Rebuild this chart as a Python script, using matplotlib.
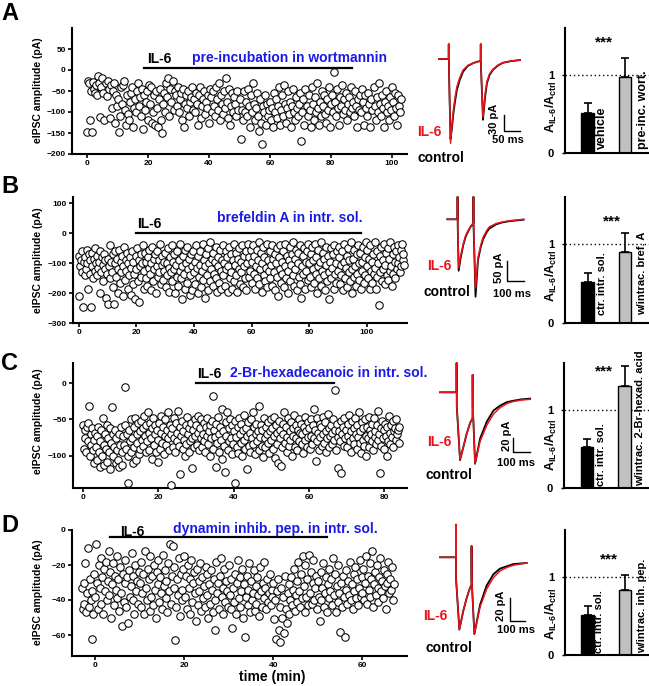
import numpy as np
import matplotlib
matplotlib.use('Agg')
import matplotlib.pyplot as plt

plt.rcParams['font.family'] = ['Liberation Sans', 'DejaVu Sans']
plt.rcParams['font.weight'] = 'bold'
plt.rcParams['mathtext.fontset'] = 'custom'
plt.rcParams['mathtext.rm'] = 'Liberation Sans:bold'
plt.rcParams['mathtext.bf'] = 'Liberation Sans:bold'
plt.rcParams['mathtext.it'] = 'Liberation Sans:bold:italic'

# ---------------- DATA ----------------
# eIPSC amplitudes (pA), regular sampling: start time (min) and interval (min)
A_t0, A_dt = 0.0, 1/3
A_amp = [
 -148,-25,-30,-120,-50,-148,-28,-45,-55,-35,-60,-15,-30,-112,-40,-20,-55,-118,-30,-62,-25,-45,-115,-35,-90,-50,-30,-125,-60,-85,
 -70,-148,-110,-40,-80,-35,-25,-95,-130,-60,-105,-120,-75,-55,-40,-135,-90,-70,-100,-50,-30,-85,-65,-110,-45,-140,-60,-95,-75,-50,
 -120,-35,-80,-40,-125,-100,-60,-130,-50,-90,-135,-70,-45,-120,-150,-80,-55,-100,-30,-65,-20,-110,-45,-75,-25,-95,-50,-60,-85,-40,
 -100,-70,-55,-120,-45,-135,-80,-60,-90,-50,-110,-75,-65,-40,-95,-70,-100,-55,-80,-130,-60,-40,-115,-85,-70,-50,-105,-75,-90,-60,
 -125,-45,-65,-100,-50,-85,-110,-40,-70,-95,-30,-120,-60,-80,-105,-50,-90,-20,-75,-115,-45,-130,-85,-55,-100,-65,-80,-110,-50,-95,
 -70,-165,-95,-120,-50,-100,-75,-110,-45,-85,-135,-60,-100,-30,-80,-120,-90,-55,-110,-145,-70,-125,-175,-85,-100,-60,-130,-80,-110,-95,
 -75,-120,-90,-135,-55,-100,-70,-115,-85,-40,-130,-95,-60,-110,-35,-80,-125,-90,-50,-105,-75,-135,-85,-45,-100,-120,-65,-90,-110,-80,
 -55,-170,-100,-70,-130,-45,-85,-110,-60,-95,-135,-40,-80,-120,-65,-100,-30,-90,-130,-75,-110,-50,-85,-60,-105,-125,-70,-95,-40,-135,
 -80,-60,-100,-5,-75,-110,-45,-90,-130,-65,-85,-35,-105,-70,-95,-55,-120,-80,-65,-100,-40,-90,-75,-110,-50,-85,-135,-70,-95,-60,
 -100,-45,-75,-130,-60,-90,-110,-55,-80,-135,-70,-95,-40,-85,-120,-65,-100,-30,-80,-110,-60,-90,-135,-75,-50,-100,-85,-120,-65,-95,
 -40,-75,-110,-55,-90,-130,-60,-85,-100,-70]

B_t0, B_dt = 0.0, 0.25
B_amp = [
 -75,-210,-110,-90,-130,-60,-245,-95,-140,-80,-120,-55,-100,-185,-70,-135,-90,-245,-110,-65,-150,-85,-125,-50,-100,-140,-75,-115,-95,-60,-200,-130,-80,-105,-160,-70,-120,-90,-215,-135,
 -85,-235,-110,-40,-150,-95,-130,-70,-180,-235,-100,-60,-145,-85,-200,-120,-55,-165,-95,-130,-75,-210,-110,-45,-155,-90,-125,-65,-185,-100,-140,-80,-115,-205,-60,-170,-95,-135,-220,-75,
 -120,-50,-160,-90,-230,-110,-70,-145,-100,-40,-185,-125,-65,-150,-95,-175,-80,-115,-55,-135,-190,-100,-45,-160,-85,-120,-70,-200,-110,-60,-145,-90,-130,-35,-170,-105,-75,-155,-95,-125,
 -65,-180,-100,-140,-50,-115,-195,-80,-130,-40,-160,-95,-120,-70,-200,-105,-145,-60,-175,-90,-125,-35,-150,-110,-220,-75,-135,-55,-185,-100,-165,-45,-120,-85,-205,-140,-70,-110,-190,-60,
 -130,-95,-170,-40,-115,-200,-75,-145,-105,-60,-180,-125,-35,-155,-90,-215,-110,-70,-140,-50,-190,-100,-160,-30,-120,-85,-175,-65,-135,-95,-150,-45,-195,-110,-80,-165,-55,-125,-185,-90,
 -40,-140,-100,-175,-60,-120,-80,-195,-110,-45,-150,-70,-130,-185,-90,-35,-160,-105,-65,-140,-195,-85,-120,-50,-170,-95,-130,-40,-180,-75,-110,-150,-60,-190,-100,-35,-145,-80,-125,-55,
 -165,-95,-40,-135,-75,-185,-110,-55,-150,-90,-30,-170,-120,-65,-195,-100,-45,-140,-80,-160,-115,-35,-180,-90,-125,-60,-150,-105,-40,-175,-85,-130,-70,-190,-100,-50,-145,-210,-80,-120,
 -40,-165,-95,-135,-60,-180,-110,-35,-150,-75,-125,-200,-90,-45,-160,-105,-70,-140,-30,-175,-85,-120,-55,-190,-100,-65,-145,-40,-170,-215,-110,-75,-135,-50,-185,-95,-125,-60,-155,-35,
 -100,-145,-70,-180,-45,-120,-90,-165,-35,-135,-80,-200,-110,-55,-150,-95,-30,-175,-125,-65,-140,-85,-190,-105,-45,-160,-75,-130,-220,-95,-50,-150,-115,-70,-185,-40,-135,-100,-165,-60,
 -125,-80,-45,-170,-105,-140,-60,-190,-95,-35,-150,-115,-75,-180,-50,-130,-90,-160,-30,-120,-200,-85,-145,-55,-110,-175,-70,-135,-40,-100,-155,-65,-185,-95,-125,-45,-165,-80,-140,-30,
 -110,-55,-150,-85,-185,-40,-125,-95,-165,-70,-135,-30,-115,-185,-60,-145,-100,-240,-75,-130,-45,-160,-90,-120,-35,-170,-105,-65,-140,-50,-155,-85,-125,-30,-110,-175,-70,-135,-45,-95,
 -150,-60,-120,-40,-100,-80,-130,-55,-110,-35,-90,-70,-105]

C_t0, C_dt = 0.0, 0.2
C_amp = [
 -58,-90,-65,-75,-95,-60,-80,-55,-32,-100,-70,-85,-62,-92,-78,-110,-68,-88,-72,-105,-60,-95,-80,-115,-65,-100,-48,-85,-112,-70,-90,-58,-108,-75,-95,-62,-118,-82,-33,-70,-100,-88,-65,-110,-76,-92,-105,-70,-115,-85,
 -60,-95,-112,-72,-85,-58,-5,-90,-70,-100,-137,-65,-80,-50,-95,-75,-110,-60,-88,-48,-105,-70,-82,-55,-98,-66,-90,-52,-78,-62,-86,-45,-72,-94,-58,-80,-40,-68,-92,-55,-75,-104,-62,-48,-85,-70,-58,-95,-65,-108,
 -78,-55,-90,-68,-45,-82,-60,-98,-72,-50,-85,-65,-40,-76,-92,-58,-70,-140,-62,-88,-48,-75,-95,-55,-80,-68,-38,-86,-60,-125,-72,-52,-90,-66,-78,-100,-58,-84,-46,-70,-94,-62,-80,-55,-76,-117,-64,-88,-50,-72,
 -58,-85,-45,-68,-92,-62,-75,-50,-88,-70,-55,-80,-95,-60,-72,-48,-84,-66,-100,-58,-76,-52,-18,-90,-64,-74,-115,-56,-82,-46,-70,-94,-60,-78,-104,-35,-66,-86,-122,-54,-72,-40,-92,-62,-80,-50,-76,-98,-58,-84,
 -66,-137,-52,-74,-88,-60,-96,-48,-70,-82,-56,-100,-64,-78,-44,-90,-62,-118,-72,-54,-86,-68,-94,-50,-76,-40,-84,-60,-98,-70,-56,-80,-66,-92,-32,-74,-58,-86,-64,-102,-48,-76,-88,-60,-70,-54,-82,-96,-66,-50,
 -78,-62,-90,-46,-72,-103,-58,-84,-68,-110,-52,-76,-64,-114,-88,-56,-70,-40,-82,-60,-94,-74,-48,-86,-66,-78,-54,-100,-62,-72,-44,-88,-58,-76,-92,-64,-50,-80,-68,-56,-84,-70,-96,-60,-46,-78,-66,-88,-54,-74,
 -62,-90,-50,-72,-84,-58,-36,-76,-64,-107,-48,-80,-68,-92,-56,-74,-60,-86,-46,-70,-82,-54,-94,-66,-76,-42,-88,-62,-72,-58,-84,-68,-50,-78,-10,-64,-92,-56,-74,-117,-66,-80,-52,-123,-70,-60,-86,-48,-76,-64,
 -88,-56,-72,-44,-80,-66,-94,-52,-76,-62,-84,-48,-70,-90,-58,-74,-40,-82,-66,-96,-54,-78,-62,-86,-50,-72,-100,-60,-76,-46,-88,-64,-70,-56,-80,-92,-48,-74,-66,-84,-58,-78,-38,-70,-123,-62,-86,-52,-76,-64,
 -90,-56,-72,-100,-60,-80,-45,-68,-84,-58,-74,-52,-88,-66,-62,-78,-50,-70,-64,-82,-60]

D_t0, D_dt = -3.0, 0.2
D_amp = [
 -33,-45,-30,-42,-19,-47,-36,-10,-44,-28,-40,-62,-35,-48,-25,
 -38,-8,-30,-45,-20,-33,-16,-42,-27,-48,-22,-35,-18,-40,-29,-12,-37,-24,-50,-31,-19,-43,-26,-34,-15,-39,-28,-46,-21,-36,-55,-25,-41,-30,-17,-44,-27,-53,-23,-38,-32,-13,-40,-26,-48,-20,-35,-29,-42,-24,
 -30,-44,-18,-36,-25,-48,-12,-33,-40,-22,-28,-46,-15,-38,-26,-43,-20,-34,-50,-24,-31,-17,-41,-27,-36,-45,-14,-32,-23,-39,-29,-47,-19,-35,-8,-42,-26,-9,-33,-21,-63,-44,-28,-37,-16,-49,-25,-34,-40,-22,
 -15,-38,-26,-45,-20,-33,-28,-48,-17,-41,-30,-24,-36,-52,-22,-43,-29,-35,-19,-46,-27,-39,-32,-44,-21,-37,-25,-50,-31,-42,-23,-34,-47,-28,-40,-57,-18,-36,-30,-45,-26,-16,-38,-33,-48,-22,-41,-29,-35,-44,
 -20,-37,-45,-28,-56,-33,-41,-25,-48,-30,-17,-39,-27,-44,-35,-22,-50,-31,-61,-38,-26,-43,-34,-19,-47,-29,-40,-36,-23,-46,-32,-42,-27,-37,-49,-21,-35,-44,-30,-39,-18,-33,-45,-28,-41,-36,-25,-43,-34,-38,
 -30,-51,-40,-62,-35,-28,-57,-44,-64,-33,-50,-38,-59,-26,-45,-53,-36,-31,-48,-40,-27,-43,-34,-22,-46,-37,-29,-41,-18,-35,-44,-25,-39,-15,-32,-47,-20,-38,-28,-43,-14,-36,-24,-42,-30,-17,-40,-33,-26,-45,
 -29,-38,-52,-24,-40,-33,-19,-44,-36,-27,-47,-31,-22,-39,-35,-28,-43,-16,-37,-25,-47,-32,-41,-20,-36,-58,-30,-44,-26,-38,-61,-34,-23,-42,-29,-37,-18,-40,-31,-45,-25,-35,-21,-39,-28,-43,-33,-17,-38,-27,
 -36,-22,-40,-30,-15,-42,-26,-34,-19,-38,-28,-12,-44,-31,-24,-37,-20,-33,-41,-27,-16,-35,-29,-39,-23,-32,-45,-25,-30,-18,-36,-28,-34,-21,-40,-31]

# IL-6 application periods (min)
A_il6 = [18.5, 87]
B_il6 = [20, 98]
C_il6 = [30, 66.5]
D_il6 = [3.4, 52]

# example traces: time (ms), current (pA)
A_tr_t = [0, 30, 30.5, 31.5, 36, 40, 45, 50, 56, 65, 75, 90, 106, 120, 130, 130.5, 131.5, 137.5, 141, 145, 150, 158, 169, 185, 200, 225, 253]
A_tr_il6 = [0, 0, 28, -30, -158, -128, -96, -73, -52, -35, -21, -12, -8, -5, -4, 28, -20, -109, -85, -62, -42, -28, -19, -11, -7, -4, -2]
A_tr_ctrl = [0, 0, 28, -30, -150, -132, -102, -80, -58, -39, -24, -13, -8, -5, -4, 28, -20, -114, -90, -67, -45, -30, -20, -12, -7, -4, -2]

B_tr_t = [0, 61, 61.5, 62.5, 68, 80, 96, 110, 125, 140, 153, 156, 156.5, 157.5, 169, 184, 200, 214, 235, 251, 292, 330, 370, 457]
B_tr_il6 = [0, 0, 58, -20, -125, -95, -63, -42, -29, -18, -11, -10, 58, -20, -178, -99, -68, -47, -30, -20, -11, -7, -4, 0]
B_tr_ctrl = [0, 0, 58, -20, -133, -100, -66, -45, -31, -19, -12, -11, 58, -20, -200, -105, -72, -52, -34, -24, -13, -8, -5, -1]

C_tr_t = [0, 99, 99.5, 100.5, 120, 140, 160, 180, 195, 195.5, 196.5, 210, 240, 280, 320, 360, 400, 440, 490, 540]
C_tr_il6 = [0, 0, 42, -20, -97, -78, -59, -44, -37, 25, -20, -102, -70, -47, -31, -22, -16, -13, -11, -10]
C_tr_ctrl = [0, 0, 42, -20, -97, -78, -59, -44, -37, 25, -20, -102, -66, -42, -26, -19, -14, -12, -10, -9]

D_tr_t = [0, 106, 106.5, 107.5, 129, 156, 178, 200, 210, 210.5, 211.5, 229, 267, 311, 356, 400, 444, 489, 578]
D_tr_il6 = [0, 0, 29, -20, -64, -47, -36, -27, -24, 10, -20, -68, -44, -28, -18, -12, -9, -7, -5]
D_tr_ctrl = [0, 0, 29, -20, -64, -47, -36, -27, -24, 10, -20, -68, -42, -25, -15, -10, -8, -6, -5]

# scale bars (pA, ms)
A_sb = (30, 50)
B_sb = (50, 100)
C_sb = (20, 100)
D_sb = (20, 100)

# normalized amplitude A_IL-6/A_ctrl (mean, SEM)
A_ratio = [0.51, 0.97]; A_err = [0.13, 0.25]
B_ratio = [0.52, 0.90]; B_err = [0.12, 0.24]
C_ratio = [0.52, 1.30]; C_err = [0.11, 0.26]
D_ratio = [0.51, 0.83]; D_err = [0.12, 0.19]
A_bar_labels = ['vehicle', 'pre-inc. wort.']
B_bar_labels = ['ctr. intr. sol.', 'w/intrac. bref. A']
C_bar_labels = ['ctr. intr. sol.', 'w/intrac. 2-Br-hexad. acid']
D_bar_labels = ['ctr. intr. sol.', 'w/intrac. inh. pep.']

# ---------------- FIGURE ----------------
W, H = 649, 686
fig = plt.figure(figsize=(W / 100, H / 100), dpi=100)
RED = '#e8141c'
BLUE = '#1a1ae6'


def fx(x):
    return x / W


def fy(y):
    return 1 - y / H


def add_ax(l, t, r, b):
    return fig.add_axes([l / W, 1 - b / H, (r - l) / W, (b - t) / H])


def txt(x, y, s, **kw):
    kw.setdefault('fontweight', 'bold')
    fig.text(fx(x), fy(y), s, **kw)


def style_spines(ax, lw=1.5):
    for s in ['top', 'right']:
        ax.spines[s].set_visible(False)
    for s in ['left', 'bottom']:
        ax.spines[s].set_linewidth(lw)


def scatter_panel(box, t0, dt, amp, xlim, ylim, xticks, yticks, il6, il6_y, xpad=1.5):
    ax = add_ax(*box)
    t = t0 + dt * np.arange(len(amp))
    ax.scatter(t, amp, s=29, facecolors='white', edgecolors='black',
               linewidths=0.75, zorder=3, clip_on=False)
    ax.plot(il6, [il6_y, il6_y], color='black', lw=1.6, zorder=4, clip_on=False)
    ax.set_xlim(*xlim)
    ax.set_ylim(*ylim)
    ax.set_xticks(xticks)
    ax.set_yticks(yticks)
    style_spines(ax)
    ax.tick_params(direction='out', length=3, width=1.2, pad=1.5, labelsize=6)
    ax.tick_params(axis='x', pad=xpad)
    for lab in ax.get_xticklabels() + ax.get_yticklabels():
        lab.set_fontweight('bold')
    return ax


def trace_panel(box, X0, kx, Y0, ky, t, il6, ctrl, sb, sb_pos):
    l, tp, r, b = box
    ax = add_ax(*box)
    ax.plot(t, ctrl, color='black', lw=1.3, clip_on=False)
    ax.plot(t, il6, color=RED, lw=1.1, clip_on=False)
    pa, ms = sb
    st, si = sb_pos
    ax.plot([st, st, st + ms], [si + pa, si, si], color='black', lw=1.0, clip_on=False)
    ax.set_xlim((l - X0) / kx, (r - X0) / kx)
    ax.set_ylim((Y0 - b) / ky, (Y0 - tp) / ky)
    ax.axis('off')
    return ax


def bar_panel(box, ratio, err):
    ax = add_ax(*box)
    ax.bar([1, 2], ratio, width=0.33, color=['black', '#c0c0c0'],
           edgecolor='black', linewidth=1.0, zorder=2)
    ax.errorbar([1, 2], ratio, yerr=[[0, 0], err], fmt='none', ecolor='black',
                elinewidth=1.2, capsize=3, capthick=1.2, zorder=3)
    ax.axhline(1, color='black', ls=(0, (1, 2)), lw=1.0, zorder=1)
    ax.set_xlim(0.4, 2.64)
    ax.set_ylim(0, 1.6)
    ax.set_xticks([])
    ax.set_yticks([0, 1])
    ax.set_yticklabels(['0', '1'])
    style_spines(ax)
    ax.tick_params(axis='y', direction='out', length=2, width=1.0, pad=6, labelsize=8)
    for lab in ax.get_yticklabels():
        lab.set_fontweight('bold')
    return ax


# ---- Panel A ----
scatter_panel((72, 28, 407, 154), A_t0, A_dt, A_amp, (-5, 105), (-200, 100),
              [0, 20, 40, 60, 80, 100], [-200, -150, -100, -50, 0, 50], A_il6, 5)
trace_panel((405, 25, 545, 170), 439, 0.32, 59, 0.533, A_tr_t, A_tr_il6, A_tr_ctrl, A_sb, (203, -135))
bar_panel((565, 28, 649, 153), A_ratio, A_err)

# ---- Panel B ----
scatter_panel((73, 197, 407, 323), B_t0, B_dt, B_amp, (-2, 114), (-300, 120),
              [0, 20, 40, 60, 80, 100], [-300, -200, -100, 0, 100], B_il6, 0)
trace_panel((405, 190, 545, 330), 447.3, 0.167, 219.3, 0.387, B_tr_t, B_tr_il6, B_tr_ctrl, B_sb, (359, -159))
bar_panel((565, 197, 649, 323), B_ratio, B_err)

# ---- Panel C ----
scatter_panel((73, 363, 407, 488), C_t0, C_dt, C_amp, (-2.7, 86), (-144, 27.5),
              [0, 20, 40, 60, 80], [-100, -50, 0], C_il6, 0)
trace_panel((405, 355, 545, 495), 440, 0.167, 392.3, 0.7, C_tr_t, C_tr_il6, C_tr_ctrl, C_sb, (439, -85))
bar_panel((564, 363, 649, 488), C_ratio, C_err)

# ---- Panel D ----
scatter_panel((72, 530, 407, 656), D_t0, D_dt, D_amp, (-5.2, 70), (-72, 0),
              [0, 20, 40, 60], [-60, -40, -20, 0], D_il6, -4, xpad=1.0)
trace_panel((405, 520, 545, 660), 440, 0.15, 557.3, 1.13, D_tr_t, D_tr_il6, D_tr_ctrl, D_sb, (467, -56))
bar_panel((565, 530, 649, 655), D_ratio, D_err)

# ---- texts ----
for letter, yb in [('A', 20), ('B', 193), ('C', 370), ('D', 532)]:
    txt(1, yb, letter, fontsize=17, ha='left', va='baseline')

for yc in [90, 260, 421, 592]:
    txt(38, yc, 'eIPSC amplitude (pA)', fontsize=7.5, rotation=90, ha='center', va='center')

# IL-6 labels and drug labels above scatter
txt(147, 63, 'IL-6', fontsize=10, ha='left', va='baseline')
txt(192, 62, 'pre-incubation in wortmannin', fontsize=10, color=BLUE, ha='left', va='baseline')
txt(137, 228, 'IL-6', fontsize=10, ha='left', va='baseline')
txt(217, 222, 'brefeldin A in intr. sol.', fontsize=10, color=BLUE, ha='left', va='baseline')
txt(197, 378, 'IL-6', fontsize=10, ha='left', va='baseline')
txt(230, 377, '2-Br-hexadecanoic in intr. sol.', fontsize=10, color=BLUE, ha='left', va='baseline')
txt(120, 536, 'IL-6', fontsize=10, ha='left', va='baseline')
txt(173, 533, 'dynamin inhib. pep. in intr. sol.', fontsize=10, color=BLUE, ha='left', va='baseline')

txt(272, 677, 'time (min)', fontsize=10, ha='center', va='center')

# trace labels
for (xi, yi, xc, yc, xp, yp, sp, xm, ym, sm) in [
        (417, 132, 417, 158, 494, 119, '30 pA', 492, 140, '50 ms'),
        (427, 266, 423, 292, 499, 268, '50 pA', 493, 294, '100 ms'),
        (427, 442, 425, 475, 507, 436, '20 pA', 497, 463, '100 ms'),
        (423, 616, 425, 648, 501, 606, '20 pA', 497, 630, '100 ms')]:
    txt(xi, yi, 'IL-6', fontsize=10, color=RED, ha='left', va='center')
    txt(xc, yc, 'control', fontsize=10, ha='left', va='center')
    txt(xp, yp, sp, fontsize=8, rotation=90, ha='center', va='center')
    txt(xm, ym, sm, fontsize=8, ha='left', va='center')

# bar chart texts
ylab = r'$\mathbf{A_{IL\text{-}6}/A_{ctrl}}$'
for (yc, ys, xs, labs, lx, lb, fs) in [
        (107, 46, 604, A_bar_labels, (596, 637), 149, 9),
        (276, 225, 612, B_bar_labels, (597, 637), 315, 8),
        (445, 375, 604, C_bar_labels, (596, 635), 486, 8),
        (614, 563, 609, D_bar_labels, (594, 637), 653, 8)]:
    txt(551, yc, ylab, fontsize=9, rotation=90, ha='center', va='center')
    txt(xs, ys, '***', fontsize=11, ha='center', va='baseline')
    txt(lx[0], lb, labs[0], fontsize=fs, rotation=90, ha='left', va='bottom')
    txt(lx[1], lb, labs[1], fontsize=fs, rotation=90, ha='left', va='bottom')

fig.savefig('out.png', dpi=100)
